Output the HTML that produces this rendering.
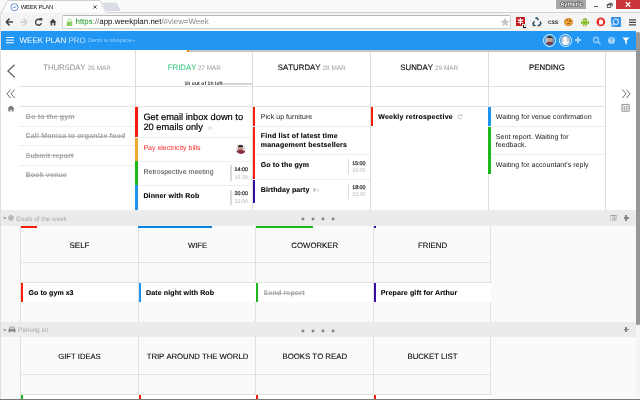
<!DOCTYPE html>
<html>
<head>
<meta charset="utf-8">
<title>WEEK PLAN</title>
<style>
*{margin:0;padding:0;box-sizing:border-box;}
html,body{width:640px;height:400px;overflow:hidden;background:#fff;}
body{font-family:"Liberation Sans",sans-serif;position:relative;color:#111;-webkit-font-smoothing:antialiased;text-rendering:geometricPrecision;}
.abs{position:absolute;}
.t{position:absolute;white-space:nowrap;line-height:1;}
.vl{position:absolute;width:1px;background:#dcdcdc;}
.hl{position:absolute;height:1px;background:#e2e2e2;}
.bar{position:absolute;}
.red{background:#fb1d0b;}
.org{background:#f1a92c;}
.grn{background:#1db81a;}
.blu{background:#1f93f0;}
.pur{background:#3a0b9f;}
.it{font-size:7px;}
.b{font-weight:bold;color:#000;-webkit-text-stroke:0.1px #000;}
.done{color:#a0a0a0;font-weight:bold;letter-spacing:0.16px;background:linear-gradient(#b4b4b4,#b4b4b4) no-repeat 0 2.75px / 100% 0.75px;}
.tm{font-size:5.3px;color:#222;-webkit-text-stroke:0.2px #222;}
.tm2{font-size:5.3px;color:#b2b2b2;}
.hd{font-size:8px;color:#000;text-align:center;font-kerning:none;-webkit-text-stroke:0.08px #000;}
.sm{font-size:6.5px;color:#999;}
.dh{font-size:7.85px;color:#111;font-kerning:none;-webkit-text-stroke:0.15px currentColor;}
.dd{font-size:6.45px;color:#9a9a9a;font-kerning:none;}
</style>
</head>
<body>
<div id="root" style="position:absolute;left:0;top:0;width:640px;height:400px;will-change:transform;">

<!-- ===== browser chrome ===== -->
<div class="abs" id="titlebar" style="left:0;top:0;width:640px;height:13px;background:#fafafa;"></div>
<div class="abs" id="toolbar" style="left:0;top:11.6px;width:640px;height:19.4px;background:#f4f4f4;border-top:1px solid #d2d2d2;"></div>

<!-- active tab -->
<svg class="abs" style="left:0;top:0" width="130" height="13" viewBox="0 0 130 13">
  <path d="M1.5 12.5 L7.5 1.2 Q8 0.5 9 0.5 L99 0.5 Q100.2 0.5 100.7 1.4 L106 12.5 Z" fill="#fdfdfd" stroke="#c4c4c4" stroke-width="0.8"/>
  <rect x="2" y="12" width="104" height="1.2" fill="#f8f8f8"/>
  <path d="M103.3 3.2 L115.4 3.2 Q116.4 3.2 116.8 4 L119.8 10.5 L107.6 10.5 Q106.6 10.5 106.2 9.7 Z" fill="#d8dde6" stroke="#c6cad0" stroke-width="0.5"/>
  <!-- favicon -->
  <circle cx="14.5" cy="7.2" r="3.6" fill="#fff" stroke="#4a74c4" stroke-width="0.8"/>
  <path d="M12.7 8 L13.9 6.8 L14.7 7.8 L16.5 6" fill="none" stroke="#4a74c4" stroke-width="0.8"/>
  <!-- close x -->
  <path d="M93.4 5.4 L96.6 8.6 M96.6 5.4 L93.4 8.6" stroke="#444" stroke-width="0.9"/>
</svg>
<div class="t" style="left:20.8px;top:5.6px;font-size:5.9px;color:#111;letter-spacing:-0.25px;">WEEK PLAN</div>

<!-- window controls -->
<div class="abs" style="left:555.6px;top:0;width:30.4px;height:9.4px;background:#a9a9a9;"></div>
<div class="t" style="left:560.2px;top:2px;font-size:6px;color:#fff;font-weight:bold;letter-spacing:-0.12px;text-shadow:0 0 0.8px #222,0 0 0.8px #222,0 0 1.2px #333,0 0 1.2px #333;">Aymeric</div>
<div class="abs" style="left:594px;top:5.8px;width:4px;height:1.2px;background:#666;"></div>
<svg class="abs" style="left:605.5px;top:1.5px" width="8" height="7" viewBox="0 0 8 7">
  <path d="M2.6 1.3 L6.2 1.3 L6.2 4" fill="none" stroke="#444" stroke-width="0.9"/>
  <rect x="1.3" y="2.8" width="3.6" height="2.6" fill="#f6f6f6" stroke="#444" stroke-width="0.8"/>
  <path d="M0.9 2.7 L5.3 2.7" stroke="#444" stroke-width="1"/>
</svg>
<div class="abs" style="left:616px;top:0;width:24px;height:9.4px;background:#c9373a;"></div>
<svg class="abs" style="left:623.5px;top:1px" width="8" height="7" viewBox="0 0 8 7"><path d="M1.8 1.2 L6.2 5.8 M6.2 1.2 L1.8 5.8" stroke="#fff" stroke-width="1.3"/></svg>

<!-- nav buttons -->
<svg class="abs" style="left:0;top:13px" width="62" height="18" viewBox="0 0 62 18">
  <path d="M6 9 L9.6 5.6 M6 9 L9.6 12.4 M6.2 9 L13 9" stroke="#444" stroke-width="1.5" fill="none"/>
  <path d="M27 9 L23.4 5.6 M27 9 L23.4 12.4 M26.8 9 L20 9" stroke="#cfcfcf" stroke-width="1.5" fill="none"/>
  <path d="M40.8 7.2 A3 3 0 1 0 41.4 10.2" stroke="#444" stroke-width="1.4" fill="none"/>
  <path d="M39 5 L42.2 5 L42.2 8.2 Z" fill="#444"/>
  <path d="M49.6 9.2 L53 5.8 L56.4 9.2 L55.4 9.2 L55.4 12.4 L53.8 12.4 L53.8 10 L52.2 10 L52.2 12.4 L50.6 12.4 L50.6 9.2 Z" fill="#444"/>
</svg>

<!-- url bar -->
<div class="abs" style="left:62px;top:15px;width:449px;height:13.5px;background:#fff;border:1px solid #d0d0d0;border-top-color:#b8b8b8;border-radius:1.5px;"></div>
<svg class="abs" style="left:65.6px;top:17.6px" width="7" height="9" viewBox="0 0 7 9">
  <path d="M1.9 4 L1.9 2.6 A1.6 1.6 0 0 1 5.1 2.6 L5.1 4" fill="none" stroke="#93d36e" stroke-width="0.9"/>
  <rect x="0.7" y="3.8" width="5.6" height="4.2" rx="0.6" fill="#8ccf66"/>
</svg>
<div class="t" style="left:75.5px;top:17.6px;font-size:7.93px;color:#111;"><span style="color:#12991a">https</span><span style="color:#777">://</span>app.weekplan.net<span style="color:#8a8a8a">/#view=Week</span></div>
<!-- star -->
<svg class="abs" style="left:500px;top:17px" width="10" height="10" viewBox="0 0 10 10"><path d="M5 0.6 L6.3 3.6 L9.5 3.9 L7.1 6 L7.8 9.2 L5 7.5 L2.2 9.2 L2.9 6 L0.5 3.9 L3.7 3.6 Z" fill="#c6c6c6"/></svg>

<!-- extension icons -->
<div class="abs" style="left:515.6px;top:17px;width:9.2px;height:9.2px;background:#c5181f;border-radius:0.8px;"></div>
<svg class="abs" style="left:515.6px;top:17px" width="9.2" height="9.2" viewBox="0 0 9.2 9.2"><path d="M4.4 1.1 L4.4 7.3 M1.7 2.6 L7.1 5.8 M7.1 2.6 L1.7 5.8" stroke="#fff" stroke-width="1.25"/></svg>
<div class="abs" style="left:522.2px;top:23.9px;width:4.8px;height:4.8px;background:#1c1c1c;border:0.6px solid #ddd;"></div>
<div class="abs" style="left:524px;top:25.2px;width:1.8px;height:2px;background:#ddd;"></div>
<svg class="abs" style="left:532px;top:17.2px" width="10" height="10" viewBox="0 0 10 10">
  <path d="M3.4 1.2 L5 1 L6.4 3.2 M8.2 4.6 L8.8 6.4 L7.6 8.4 L5.6 8.4 M3.6 8.4 L1.6 8.4 L1 6.6 L2.4 4.4" stroke="#2d4a5e" stroke-width="1.5" fill="none"/>
</svg>
<div class="t" style="left:548px;top:20.6px;font-size:5px;font-weight:bold;color:#222;letter-spacing:-0.15px;">CSS</div>
<div class="abs" style="left:564.2px;top:17.7px;width:8.6px;height:8.6px;border-radius:50%;background:#f0a63a;border:0.8px solid #d4862a;"></div>
<div class="abs" style="left:566.4px;top:20.2px;width:1.2px;height:1.2px;background:#9b5a1a;border-radius:50%"></div>
<div class="abs" style="left:569.4px;top:20.4px;width:1.2px;height:1.2px;background:#9b5a1a;border-radius:50%"></div>
<div class="abs" style="left:567.2px;top:23.2px;width:2.4px;height:1px;background:#9b5a1a;border-radius:50%"></div>
<svg class="abs" style="left:579.5px;top:17px" width="10" height="10" viewBox="0 0 10 10">
  <path d="M2.4 3.6 A2.6 2.4 0 0 1 7.6 3.6 Z" fill="#8bbb2a"/>
  <rect x="2.4" y="4" width="5.2" height="3.8" rx="0.5" fill="#8bbb2a"/>
  <rect x="0.9" y="4" width="1.1" height="3" rx="0.5" fill="#8bbb2a"/>
  <rect x="8" y="4" width="1.1" height="3" rx="0.5" fill="#8bbb2a"/>
  <rect x="3.3" y="7.4" width="1.1" height="2" rx="0.4" fill="#8bbb2a"/>
  <rect x="5.6" y="7.4" width="1.1" height="2" rx="0.4" fill="#8bbb2a"/>
</svg>
<svg class="abs" style="left:595.5px;top:17px" width="10" height="10" viewBox="0 0 10 10">
  <circle cx="4.8" cy="4.9" r="4.3" fill="#e8261f"/>
  <path d="M3.2 7.6 L3 4.6 L3.4 2.6 L4 2.4 L4.2 4 L4.4 2 L5 1.8 L5.3 3.9 L5.6 2.2 L6.2 2.3 L6.3 4.2 L6.7 3 L7.2 3.2 L6.9 6 L6.2 7.6 Z" fill="#fff"/>
</svg>
<div class="abs" style="left:611.4px;top:17.2px;width:9.6px;height:9.4px;background:#2f8fe9;border-radius:1px;"></div>
<svg class="abs" style="left:611.4px;top:17.2px" width="9.6" height="9.4" viewBox="0 0 9.6 9.4">
  <path d="M0 5 L3.4 9.4 L0 9.4 Z" fill="#8cc4f6"/>
  <path d="M2.4 5.6 A2.6 2.6 0 0 1 6.8 2.9 M7.3 4 A2.6 2.6 0 0 1 3 6.8" fill="none" stroke="#fff" stroke-width="1"/>
  <path d="M7.6 1.6 L7.4 3.8 L5.4 3.2 Z M2 8 L2.3 5.8 L4.2 6.6 Z" fill="#fff"/>
</svg>
<svg class="abs" style="left:629px;top:18.8px" width="7" height="7" viewBox="0 0 7 7"><path d="M0 0.9 L7 0.9 M0 3.4 L7 3.4 M0 5.9 L7 5.9" stroke="#444" stroke-width="1.4"/></svg>

<!-- ===== app bar ===== -->
<div class="abs" id="appbar" style="left:1px;top:31px;width:635px;height:19px;background:#2196f3;"></div>
<div class="abs" style="left:6.1px;top:36.6px;width:8px;height:1.75px;background:#fff;box-shadow:0 2.65px 0 #fff,0 5.3px 0 #fff;"></div>
<div class="t" style="left:19.5px;top:37px;font-size:8px;color:#fff;">WEEK PLAN <span style="color:#bfe0fb">PRO</span></div>
<div class="t" style="left:88px;top:39.4px;font-size:5.4px;color:#a3d3fa;">Demo w orkspace</div>
<svg class="abs" style="left:130.6px;top:39.4px" width="5" height="4" viewBox="0 0 5 4"><path d="M0.9 0.9 L2.4 2.5 L3.9 0.9" stroke="#a3d3fa" stroke-width="0.7" fill="none"/></svg>

<!-- avatars -->
<div class="abs" style="left:543.3px;top:33.8px;width:12.8px;height:12.8px;border-radius:50%;border:0.8px solid #e8f3fd;"></div>
<div class="abs" style="left:545px;top:35.5px;width:9.4px;height:9.4px;border-radius:50%;background:#8b8f9c;overflow:hidden;">
  <div class="abs" style="left:0;top:0;width:3.4px;height:9.4px;background:#b9bcc6;"></div>
  <div class="abs" style="left:2.6px;top:1.7px;width:4.4px;height:5.2px;border-radius:45%;background:#c9a18f;"></div>
  <div class="abs" style="left:2.2px;top:0.3px;width:5.6px;height:2.6px;border-radius:50% 50% 20% 20%;background:#3a3232;"></div>
  <div class="abs" style="left:0.6px;top:6.8px;width:8.6px;height:4px;border-radius:40% 40% 0 0;background:#7a3440;"></div>
</div>
<div class="abs" style="left:558.9px;top:33.8px;width:12.8px;height:12.8px;border-radius:50%;border:0.8px solid #e8f3fd;"></div>
<div class="abs" style="left:560.6px;top:35.5px;width:9.4px;height:9.4px;border-radius:50%;background:#c4c6cf;overflow:hidden;">
  <div class="abs" style="left:2.9px;top:1.5px;width:3.6px;height:3.8px;border-radius:50%;background:#fafafa;"></div>
  <div class="abs" style="left:1.2px;top:5.5px;width:7px;height:6px;border-radius:45% 45% 0 0;background:#fafafa;"></div>
</div>
<div class="abs" style="left:574.6px;top:39.4px;width:6.4px;height:1.6px;background:#a8d5fa;"></div>
<div class="abs" style="left:577px;top:37px;width:1.6px;height:6.4px;background:#a8d5fa;"></div>
<svg class="abs" style="left:592.4px;top:35.6px" width="10" height="10" viewBox="0 0 10 10"><circle cx="4" cy="3.9" r="2.5" fill="none" stroke="#a8d5fa" stroke-width="1.1"/><path d="M5.9 5.8 L8.5 8.4" stroke="#a8d5fa" stroke-width="1.3"/></svg>
<div class="abs" style="left:608px;top:36.7px;width:7px;height:7px;border-radius:50%;background:#a9d6fa;"></div>
<svg class="abs" style="left:608px;top:36.7px" width="7" height="7" viewBox="0 0 7 7"><path d="M2.5 2.7 A1.05 1.05 0 1 1 3.9 3.3 Q3.5 3.5 3.5 4.2" fill="none" stroke="#2196f3" stroke-width="0.85"/><circle cx="3.5" cy="5.3" r="0.5" fill="#2196f3"/></svg>
<svg class="abs" style="left:621.5px;top:36.5px" width="8" height="8" viewBox="0 0 8 8"><path d="M0.4 0.6 L7.4 0.6 L4.7 3.6 L4.7 7.4 L3.1 6 L3.1 3.6 Z" fill="#fff"/></svg>

<!-- progress line under appbar -->
<div class="abs" style="left:189px;top:50px;width:447px;height:1.6px;background:#cbc8c4;"></div>
<div class="abs" style="left:187px;top:49.6px;width:2px;height:2.2px;background:#f08a00;"></div>

<!-- ===== week view ===== -->
<!-- left gutter icons -->
<svg class="abs" style="left:5px;top:63px" width="12" height="16" viewBox="0 0 12 16"><path d="M9.6 1.8 L3 8 L9.6 14.2" stroke="#6a6a6a" stroke-width="1.4" fill="none"/></svg>
<svg class="abs" style="left:5px;top:88px" width="12" height="12" viewBox="0 0 12 12"><path d="M5.6 1.6 L2 5.8 L5.6 10 M9.6 1.6 L6 5.8 L9.6 10" stroke="#666" stroke-width="1" fill="none"/></svg>
<svg class="abs" style="left:6.5px;top:104.5px" width="8" height="7" viewBox="0 0 8 7"><path d="M0.3 3.6 L4 0.4 L7.7 3.6 L6.6 3.6 L6.6 6.6 L4.7 6.6 L4.7 4.6 L3.3 4.6 L3.3 6.6 L1.4 6.6 L1.4 3.6 Z" fill="#777"/></svg>
<!-- right gutter icons -->
<svg class="abs" style="left:619.6px;top:88px" width="12" height="12" viewBox="0 0 12 12"><path d="M2.4 1.6 L6 5.8 L2.4 10 M6.4 1.6 L10 5.8 L6.4 10" stroke="#666" stroke-width="1" fill="none"/></svg>
<svg class="abs" style="left:621.3px;top:103.2px" width="9" height="9" viewBox="0 0 9 9"><rect x="0.9" y="1.6" width="7.2" height="6.6" fill="none" stroke="#888" stroke-width="0.8"/><path d="M0.9 3.4 L8.1 3.4 M3.3 3.4 L3.3 8.2 M5.7 3.4 L5.7 8.2 M0.9 5.8 L8.1 5.8 M2.6 0.6 L2.6 2 M6.4 0.6 L6.4 2" stroke="#888" stroke-width="0.6"/></svg>

<!-- vertical lines -->
<div class="vl" style="left:135px;top:50px;height:160px;"></div>
<div class="vl" style="left:252px;top:52px;height:158px;"></div>
<div class="vl" style="left:370px;top:52px;height:158px;"></div>
<div class="vl" style="left:488px;top:52px;height:158px;"></div>
<div class="vl" style="left:605px;top:52px;height:158px;"></div>
<!-- horizontal header lines -->
<div class="hl" style="left:19px;top:86px;width:587px;"></div>
<div class="hl" style="left:19px;top:106px;width:587px;"></div>

<!-- day headers -->
<div class="t dh" style="left:43.3px;top:64px;color:#909090;-webkit-text-stroke:0;letter-spacing:-0.13px;">THURSDAY</div><div class="t dd" style="left:87.7px;top:66px;">26 MAR</div>
<div class="t dh" style="left:167.7px;top:64px;color:#27c677;-webkit-text-stroke:0;">FRIDAY</div><div class="t dd" style="left:197.7px;top:66px;">27 MAR</div>
<div class="t dh" style="left:277.8px;top:64px;">SATURDAY</div><div class="t dd" style="left:322.5px;top:66px;">28 MAR</div>
<div class="t dh" style="left:400.3px;top:64px;">SUNDAY</div><div class="t dd" style="left:435px;top:66px;">29 MAR</div>
<div class="t dh" style="left:529px;top:64px;">PENDING</div>

<div class="t" style="left:184.4px;top:81.6px;font-size:5px;color:#333;font-weight:bold;letter-spacing:0.07px;">1h out of 1h left</div>
<div class="abs" style="left:223px;top:83px;width:28.6px;height:1.6px;background:#d6d6d6;"></div>

<!-- Thursday items -->
<div class="hl" style="left:19px;top:126px;width:116px;background:#efefef;"></div>
<div class="hl" style="left:19px;top:145px;width:116px;background:#efefef;"></div>
<div class="hl" style="left:19px;top:165px;width:116px;background:#efefef;"></div>
<div class="t it done" style="left:25.6px;top:113.7px;">Go to the gym</div>
<div class="t it done" style="left:25.6px;top:133.3px;">Call Monica to organize food</div>
<div class="t it done" style="left:25.6px;top:152.7px;">Submit report</div>
<div class="t it done" style="left:25.6px;top:172.3px;">Book venue</div>

<!-- Friday items -->
<div class="bar red" style="left:135.3px;top:106.6px;width:2.7px;height:30.6px;"></div>
<div class="bar org" style="left:135.3px;top:137.6px;width:2.7px;height:23.4px;"></div>
<div class="bar grn" style="left:135.3px;top:161.4px;width:2.7px;height:23.4px;"></div>
<div class="bar blu" style="left:135.3px;top:185.2px;width:2.7px;height:24.8px;"></div>
<div class="hl" style="left:139px;top:137px;width:113px;background:#eee;"></div>
<div class="hl" style="left:139px;top:161px;width:113px;background:#eee;"></div>
<div class="hl" style="left:139px;top:185px;width:113px;background:#eee;"></div>
<div class="t" style="left:143.4px;top:112px;font-size:9.3px;color:#000;line-height:10.4px;-webkit-text-stroke:0.2px #000;">Get email inbox down to<br>20 emails only <span style="font-size:5px;color:#c4c4c4;margin-left:1.8px;-webkit-text-stroke:0;">1h</span></div>
<div class="t it" style="left:143.4px;top:145px;color:#ff2c2c;">Pay electricity bills</div>
<div class="abs" style="left:235.7px;top:144.2px;width:10px;height:10px;border-radius:50%;background:#e6e6ea;overflow:hidden;">
  <div class="abs" style="left:2.8px;top:1.6px;width:4.4px;height:4.8px;border-radius:45%;background:#b98a78;"></div>
  <div class="abs" style="left:2.2px;top:0.6px;width:5.4px;height:2.4px;border-radius:50% 50% 0 0;background:#2c2727;"></div>
  <div class="abs" style="left:0.8px;top:6.2px;width:8.4px;height:4.5px;border-radius:40% 40% 0 0;background:#8b3040;"></div>
</div>
<div class="t it" style="left:143.4px;top:168.6px;color:#3c3c3c;letter-spacing:0.03px;">Retrospective meeting</div>
<div class="abs" style="left:230.3px;top:165px;width:1.5px;height:15.5px;background:#dadada;"></div>
<div class="t tm" style="left:234.6px;top:167.9px;">14:00</div>
<div class="t tm2" style="left:234.6px;top:175.6px;">16:30</div>
<div class="t it b" style="left:143.4px;top:193.3px;color:#000;letter-spacing:0.15px;">Dinner with Rob</div>
<div class="abs" style="left:230.3px;top:190px;width:1.5px;height:15px;background:#dadada;"></div>
<div class="t tm" style="left:234.6px;top:192.2px;">20:00</div>
<div class="t tm2" style="left:234.6px;top:199.8px;">22:00</div>

<!-- Saturday items -->
<div class="bar red" style="left:252.7px;top:106.6px;width:2.8px;height:19.6px;"></div>
<div class="bar red" style="left:252.7px;top:126.6px;width:2.8px;height:27.2px;"></div>
<div class="bar red" style="left:252.7px;top:154.2px;width:2.8px;height:25.2px;"></div>
<div class="bar pur" style="left:252.7px;top:179.8px;width:2.8px;height:23.4px;"></div>
<div class="hl" style="left:256px;top:126px;width:114px;background:#eee;"></div>
<div class="hl" style="left:256px;top:154px;width:114px;background:#eee;"></div>
<div class="hl" style="left:256px;top:179px;width:114px;background:#eee;"></div>
<div class="t it" style="left:260.8px;top:113.7px;color:#222;letter-spacing:0.05px;">Pick up furniture</div>
<div class="t it b" style="left:260.8px;top:133.4px;line-height:8.65px;letter-spacing:0.21px;">Find list of latest time<br>management bestsellers</div>
<div class="t it b" style="left:260.8px;top:162.1px;letter-spacing:0.1px;">Go to the gym</div>
<div class="abs" style="left:347.5px;top:159px;width:1.5px;height:14.5px;background:#dadada;"></div>
<div class="t tm" style="left:352.2px;top:161.5px;">15:00</div>
<div class="t tm2" style="left:352.2px;top:169px;">16:00</div>
<div class="t it b" style="left:260.8px;top:186.6px;letter-spacing:0.09px;">Birthday party</div>
<svg class="abs" style="left:312.2px;top:187.6px" width="8" height="6" viewBox="0 0 8 6"><path d="M0.5 0.8 L4.4 0.8 L2.9 2.4 L2.9 4.6 L2 4 L2 2.4 Z" fill="#aaa"/><circle cx="5.9" cy="2.2" r="1.3" fill="none" stroke="#ccc" stroke-width="0.6"/></svg>
<div class="abs" style="left:347.5px;top:183.5px;width:1.5px;height:15px;background:#dadada;"></div>
<div class="t tm" style="left:352.2px;top:186px;">18:00</div>
<div class="t tm2" style="left:352.2px;top:193.2px;">22:30</div>

<!-- Sunday items -->
<div class="bar red" style="left:370.7px;top:106.6px;width:2.4px;height:19.8px;"></div>
<div class="t it b" style="left:378.2px;top:113.7px;letter-spacing:0.24px;">Weekly retrospective</div>
<svg class="abs" style="left:456.6px;top:113.8px" width="6" height="6" viewBox="0 0 6 6"><path d="M4.6 1.8 A2 2 0 1 0 4.9 3.6" stroke="#aaa" stroke-width="0.7" fill="none"/><path d="M3.6 0.6 L5.4 0.8 L5 2.6 Z" fill="#aaa"/></svg>

<!-- Pending items -->
<div class="bar blu" style="left:488.3px;top:106.6px;width:2.7px;height:19.6px;"></div>
<div class="bar grn" style="left:488.3px;top:126.6px;width:2.7px;height:27.2px;"></div>
<div class="bar grn" style="left:488.3px;top:154.4px;width:2.7px;height:19.2px;"></div>
<div class="hl" style="left:491px;top:126px;width:114px;background:#eee;"></div>
<div class="hl" style="left:491px;top:154px;width:114px;background:#eee;"></div>
<div class="t it" style="left:495.8px;top:113.8px;color:#151515;letter-spacing:0.05px;">Waiting for venue confirmation</div>
<div class="t it" style="left:495.8px;top:133.7px;color:#151515;line-height:8.8px;letter-spacing:0.05px;">Sent report. Waiting for<br>feedback.</div>
<div class="t it" style="left:495.8px;top:162.2px;color:#151515;letter-spacing:0.05px;">Waiting for accountant's reply</div>

<!-- ===== Goals of the week ===== -->
<div class="abs" style="left:1px;top:210px;width:635px;height:190px;background:#fafafa;"></div>
<div class="abs" style="left:1px;top:226px;width:19px;height:174px;background:#f9f9f9;"></div>
<div class="abs" style="left:1px;top:210px;width:635px;height:16px;background:#ebebeb;"></div>
<svg class="abs" style="left:3.2px;top:217.2px" width="4" height="3" viewBox="0 0 4 3"><path d="M0.2 0.3 L3.4 0.3 L1.8 2.3 Z" fill="#888"/></svg>
<svg class="abs" style="left:8.3px;top:215.2px" width="6" height="6" viewBox="0 0 6 6"><circle cx="3" cy="3" r="2.3" fill="none" stroke="#8a8a8a" stroke-width="0.8"/><path d="M1.6 4.4 L4.4 1.6" stroke="#8a8a8a" stroke-width="0.7"/><circle cx="3" cy="3" r="0.8" fill="none" stroke="#8a8a8a" stroke-width="0.5"/></svg>
<div class="t" style="left:15.8px;top:217px;font-size:6.4px;color:#a8a8a8;">Goals of the week</div>
<svg class="abs" style="left:300px;top:216px" width="36" height="6" viewBox="0 0 36 6"><circle cx="2.9" cy="3.05" r="1.45" fill="#838383"/><circle cx="13" cy="3.05" r="1.45" fill="#838383"/><circle cx="23" cy="3.05" r="1.45" fill="#838383"/><circle cx="33.1" cy="3.05" r="1.45" fill="#838383"/></svg>
<svg class="abs" style="left:610px;top:215px" width="7" height="6" viewBox="0 0 7 6"><rect x="0.3" y="0.3" width="6.1" height="5.2" fill="#f4f4f4" stroke="#b4b4b4" stroke-width="0.6"/><path d="M0.3 0.7 L6.4 0.7" stroke="#999" stroke-width="1"/><path d="M2.2 2.2 L5.9 2.2 M2.2 3.3 L5.9 3.3 M2.2 4.4 L5.9 4.4" stroke="#a0a0a0" stroke-width="0.7"/></svg>
<div class="abs" style="left:623.6px;top:217.1px;width:5.4px;height:1.7px;background:#848484;"></div>
<div class="abs" style="left:625.45px;top:215.3px;width:1.7px;height:5.4px;background:#848484;"></div>

<div class="vl" style="left:20px;top:226px;height:96px;background:#e1e1e1;"></div>
<div class="vl" style="left:138px;top:226px;height:96px;background:#e1e1e1;"></div>
<div class="vl" style="left:255px;top:226px;height:96px;background:#e1e1e1;"></div>
<div class="vl" style="left:373px;top:226px;height:96px;background:#e1e1e1;"></div>
<div class="vl" style="left:490px;top:226px;height:96px;background:#e1e1e1;"></div>
<div class="hl" style="left:21px;top:262px;width:470px;"></div>
<div class="hl" style="left:21px;top:282px;width:470px;"></div>
<div class="bar red" style="left:21px;top:226px;width:16.2px;height:2px;"></div>
<div class="bar" style="left:138.4px;top:226px;width:73.4px;height:2px;background:#0a84de;"></div>
<div class="bar grn" style="left:256px;top:226px;width:57.4px;height:2px;"></div>
<div class="bar pur" style="left:373.6px;top:226px;width:2.4px;height:2px;"></div>

<div class="t hd" style="left:21px;width:117px;top:241.8px;font-size:8px;">SELF</div>
<div class="t hd" style="left:139px;width:117px;top:241.8px;font-size:7.7px;">WIFE</div>
<div class="t hd" style="left:256px;width:117.5px;top:241.8px;font-size:7.8px;">COWORKER</div>
<div class="t hd" style="left:374px;width:117px;top:241.8px;font-size:7.8px;">FRIEND</div>

<!-- goal items -->
<div class="abs" style="left:21px;top:282.6px;width:117px;height:19.4px;background:#fff;"></div>
<div class="abs" style="left:139px;top:282.6px;width:116.5px;height:19.4px;background:#fff;"></div>
<div class="abs" style="left:256.5px;top:282.6px;width:116.5px;height:19.4px;background:#fff;"></div>
<div class="abs" style="left:374px;top:282.6px;width:117px;height:19.4px;background:#fff;"></div>
<div class="bar red" style="left:21px;top:282.6px;width:2.4px;height:19.4px;"></div>
<div class="bar blu" style="left:138.6px;top:282.6px;width:2.4px;height:19.4px;"></div>
<div class="bar grn" style="left:255.8px;top:282.6px;width:2.4px;height:19.4px;"></div>
<div class="bar pur" style="left:373.8px;top:282.6px;width:2.4px;height:19.4px;"></div>
<div class="t it b" style="left:28.6px;top:290px;letter-spacing:0.05px;">Go to gym x3</div>
<div class="t it b" style="left:146px;top:290px;letter-spacing:0.13px;">Date night with Rob</div>
<div class="t it done" style="left:263.6px;top:290px;">Send report</div>
<div class="t it b" style="left:380.8px;top:290px;letter-spacing:0.14px;">Prepare gift for Arthur</div>

<!-- ===== Parking lot ===== -->
<div class="abs" style="left:1px;top:322px;width:635px;height:14.7px;background:#ebebeb;"></div>
<svg class="abs" style="left:3.2px;top:328.8px" width="4" height="3" viewBox="0 0 4 3"><path d="M0.2 0.3 L3.4 0.3 L1.8 2.3 Z" fill="#888"/></svg>
<svg class="abs" style="left:8.4px;top:326.2px" width="8" height="7" viewBox="0 0 8 7"><path d="M1 3 L1.9 0.8 L6.1 0.8 L7 3 L7.6 3.4 L7.6 5.4 L0.4 5.4 L0.4 3.4 Z" fill="#8a8a8a"/><rect x="0.8" y="5" width="1.4" height="1.4" fill="#8a8a8a"/><rect x="5.8" y="5" width="1.4" height="1.4" fill="#8a8a8a"/><path d="M2.2 1.5 L5.8 1.5 L6.2 2.8 L1.8 2.8 Z" fill="#ebebeb"/></svg>
<div class="t" style="left:18px;top:328px;font-size:6.4px;color:#a8a8a8;">Parking lot</div>
<svg class="abs" style="left:300px;top:327.8px" width="36" height="6" viewBox="0 0 36 6"><circle cx="2.9" cy="3.05" r="1.45" fill="#838383"/><circle cx="13" cy="3.05" r="1.45" fill="#838383"/><circle cx="23" cy="3.05" r="1.45" fill="#838383"/><circle cx="33.1" cy="3.05" r="1.45" fill="#838383"/></svg>
<div class="abs" style="left:623.6px;top:328.6px;width:5.4px;height:1.7px;background:#848484;"></div>
<div class="abs" style="left:625.45px;top:326.8px;width:1.7px;height:5.4px;background:#848484;"></div>

<div class="vl" style="left:20px;top:337px;height:63px;background:#e1e1e1;"></div>
<div class="vl" style="left:138px;top:337px;height:63px;background:#e1e1e1;"></div>
<div class="vl" style="left:255px;top:337px;height:63px;background:#e1e1e1;"></div>
<div class="vl" style="left:373px;top:337px;height:63px;background:#e1e1e1;"></div>
<div class="vl" style="left:490px;top:337px;height:63px;background:#e1e1e1;"></div>
<div class="hl" style="left:21px;top:374px;width:470px;"></div>
<div class="hl" style="left:21px;top:394px;width:470px;"></div>
<div class="t hd" style="left:21px;width:117px;top:352.8px;font-size:7.65px;">GIFT IDEAS</div>
<div class="t hd" style="left:139px;width:117px;top:352.8px;font-size:7.72px;">TRIP AROUND THE WORLD</div>
<div class="t hd" style="left:256px;width:117.5px;top:352.8px;font-size:7.8px;">BOOKS TO READ</div>
<div class="t hd" style="left:374px;width:117px;top:352.8px;font-size:7.78px;">BUCKET LIST</div>
<div class="abs" style="left:21px;top:394.6px;width:470px;height:5px;background:#fff;"></div>
<div class="bar grn" style="left:21px;top:394.6px;width:2.4px;height:5px;"></div>
<div class="bar red" style="left:138.6px;top:394.6px;width:2.4px;height:5px;"></div>
<div class="bar red" style="left:255.8px;top:394.6px;width:2.4px;height:5px;"></div>
<div class="bar red" style="left:373.8px;top:394.6px;width:2.4px;height:5px;"></div>

<!-- scrollbar + window border -->
<div class="abs" style="left:636px;top:31px;width:4px;height:369px;background:#f5f5f5;"></div>
<div class="abs" style="left:636px;top:32px;width:4px;height:292.8px;background:#979797;border-radius:1.5px 1.5px 1.5px 1.5px;"></div>
<div class="abs" style="left:0;top:12px;width:1px;height:388px;background:#dedede;"></div>
<div class="abs" style="left:0;top:398.8px;width:640px;height:1.2px;background:#7a7a7a;"></div>

</div>
</body>
</html>
